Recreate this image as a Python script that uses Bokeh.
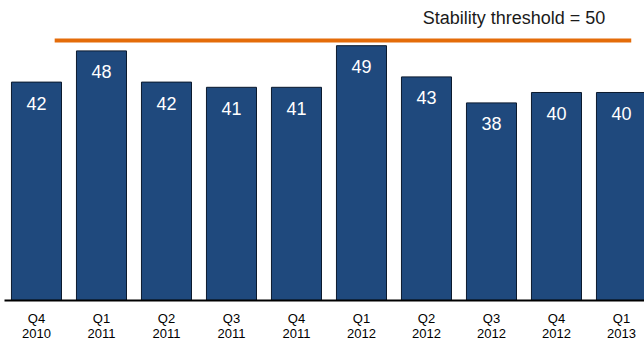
from bokeh.plotting import figure
from bokeh.models import Range1d, ColumnDataSource
from bokeh.core.properties import value
from bokeh.embed import file_html
from bokeh.resources import INLINE

quarters = ["Q4", "Q1", "Q2", "Q3", "Q4", "Q1", "Q2", "Q3", "Q4", "Q1"]
years = ["2010", "2011", "2011", "2011", "2011", "2012", "2012", "2012", "2012", "2013"]
scores = [42, 48, 42, 41, 41, 49, 43, 38, 40, 40]
threshold = 50
threshold_label = "Stability threshold = 50"

n = len(scores)
xs = list(range(n))
src = ColumnDataSource(dict(x=xs, top=scores, lbl=[str(v) for v in scores],
                            q=quarters, yr=years, zero=[0] * n))

FONT = "Liberation Sans"

p = figure(width=644, height=341, output_backend="svg", toolbar_location=None,
           x_range=Range1d(-0.492, 9.354), y_range=Range1d(-7.885, 57.692),
           min_border_left=4, min_border_right=0, min_border_top=0, min_border_bottom=0)
p.outline_line_color = None
p.xgrid.visible = False
p.ygrid.visible = False
p.xaxis.visible = False
p.yaxis.visible = False
p.background_fill_color = "white"
p.border_fill_color = "white"

p.vbar(x="x", top="top", bottom=0, width=0.77, source=src,
       fill_color="#1F497D", line_color="#0B1A2E", line_width=1)

p.text(x="x", y="top", text="lbl", source=src, y_offset=21,
       text_align="center", text_baseline="middle", text_color="white",
       text_font=value(FONT), text_font_size="18px")

# category axis line and two-line tick labels
p.segment(x0=[-0.5], x1=[9.4], y0=[0], y1=[0], line_color="black", line_width=2)
p.text(x="x", y="zero", text="q", source=src, y_offset=18,
       text_align="center", text_baseline="middle", text_color="black",
       text_font=value(FONT), text_font_size="13px")
p.text(x="x", y="zero", text="yr", source=src, y_offset=33,
       text_align="center", text_baseline="middle", text_color="black",
       text_font=value(FONT), text_font_size="13px")

p.segment(x0=[0.28], x1=[9.15], y0=[threshold], y1=[threshold],
          line_color="#E46C0A", line_width=4)

p.text(x=[8.75], y=[threshold], text=[threshold_label], y_offset=-22,
       text_align="right", text_baseline="middle", text_color="#1a1a1a",
       text_font=value(FONT), text_font_size="18px")

open("out.html", "w").write(file_html(p, INLINE))
